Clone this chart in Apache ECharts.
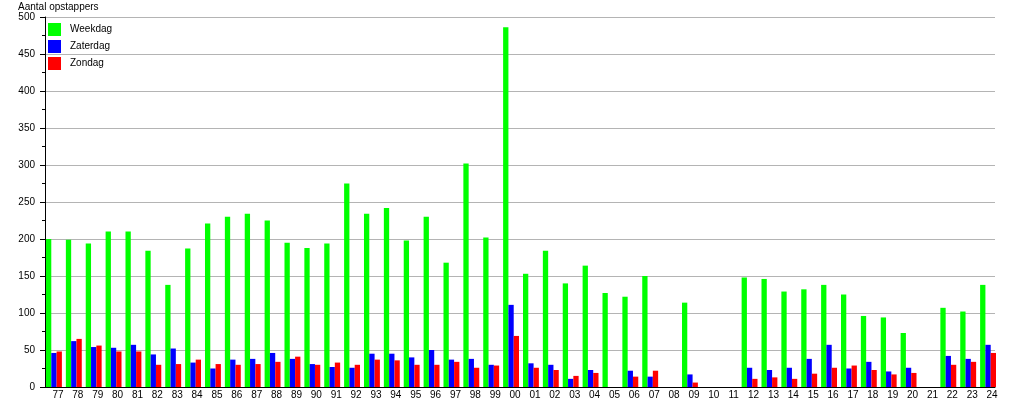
<!DOCTYPE html>
<html>
<head>
<meta charset="utf-8">
<script src="https://cdn.jsdelivr.net/npm/echarts@6/dist/echarts.min.js"></script>
<style>
html,body{margin:0;padding:0;background:#fff;}
#chart{width:1015px;height:400px;}
</style>
</head>
<body>
<div id="chart"></div>
<script>
var categories = ['77','78','79','80','81','82','83','84','85','86','87','88','89','90','91','92','93','94','95','96','97','98','99',
  '00','01','02','03','04','05','06','07','08','09','10','11','12','13','14','15','16','17','18','19','20','21','22','23','24'];
var weekdag = [200,199,194,210,210,184,138,187,221,230,234,225,195,188,194,275,234,242,198,230,168,302,202,
  486,153,184,140,164,127,122,150,0,114,0,0,148,146,129,132,138,125,96,94,73,0,107,102,138];
var zaterdag = [46,62,54,53,57,44,52,33,25,37,38,46,38,31,27,26,45,45,40,50,37,38,30,
  111,32,30,11,23,0,22,14,0,17,0,0,26,23,26,38,57,25,34,21,26,0,42,38,57];
var zondag = [48,65,56,48,48,30,31,37,31,30,31,34,41,30,33,30,37,36,30,30,34,26,29,
  69,26,23,15,19,0,14,22,0,6,0,0,11,13,11,18,26,29,23,17,19,0,30,34,46];
var seriesNames = ['Weekdag','Zaterdag','Zondag'];
var seriesColors = ['#00ff00','#0000ff','#ff0000'];
var yTitle = 'Aantal opstappers';

var font = 'Liberation Sans, Arial, sans-serif';
var chart = echarts.init(document.getElementById('chart'), null, {renderer:'canvas'});
var dataSets = [weekdag, zaterdag, zondag];
var series = dataSets.map(function(d, i){
  return {
    name: seriesNames[i], type: 'bar', xAxisIndex: 1, yAxisIndex: 1,
    data: d, barGap: '0%', barCategoryGap: '20%',
    itemStyle: {color: seriesColors[i]}, emphasis: {disabled: true}
  };
});
chart.setOption({
  animation: false,
  backgroundColor: '#fff',
  textStyle: {fontFamily: font},
  title: {text: yTitle, left: 18, top: 2, padding: 0,
    textStyle: {fontSize: 10, fontWeight: 'normal', color: '#000', fontFamily: font}},
  legend: {orient: 'vertical', left: 48, top: 23, padding: 0, itemWidth: 13, itemHeight: 13, itemGap: 4,
    icon: 'rect', data: seriesNames,
    textStyle: {fontSize: 10, color: '#000', fontFamily: font, padding: [1,0,0,4]}},
  grid: [
    {left: 45, right: 20, top: 17, bottom: 13},
    {left: 44, width: 954, top: 17, bottom: 13}
  ],
  xAxis: [
    {gridIndex: 0, type: 'value', min: 0, max: 1,
      axisLine: {show: true, lineStyle: {color: '#000', width: 1}},
      axisTick: {show: false}, axisLabel: {show: false}, splitLine: {show: false}},
    {gridIndex: 1, type: 'category', data: categories,
      axisLine: {show: false}, axisTick: {show: false}, splitLine: {show: false},
      axisLabel: {interval: 0, fontSize: 10, color: '#000', margin: 3, padding: [0,0,0,8], fontFamily: font}}
  ],
  yAxis: [
    {gridIndex: 0, type: 'value', min: 0, max: 500, interval: 50,
      axisLine: {show: true, lineStyle: {color: '#000', width: 1}},
      axisTick: {show: true, length: 5, lineStyle: {color: '#000'}},
      minorTick: {show: true, splitNumber: 2, length: 3, lineStyle: {color: '#000'}},
      axisLabel: {fontSize: 10, color: '#000', margin: 10, fontFamily: font},
      splitLine: {show: true, lineStyle: {color: '#b4b4b4', width: 1}}},
    {gridIndex: 1, type: 'value', min: 0, max: 500, show: false, splitLine: {show: false}}
  ],
  series: series
});
</script>
</body>
</html>
